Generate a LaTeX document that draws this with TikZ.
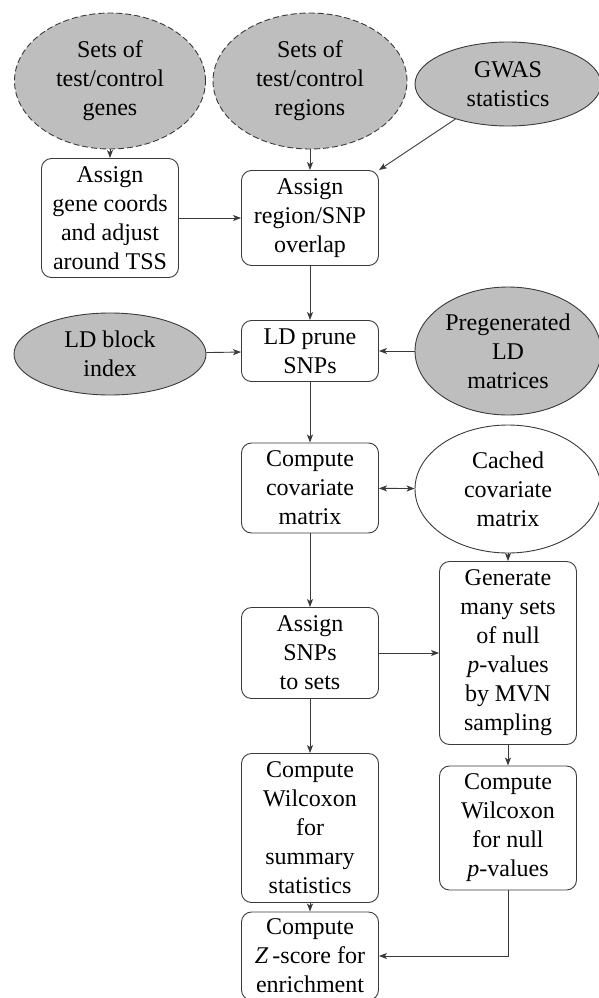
\documentclass[tikz,border=0pt]{standalone}
\usepackage{fontspec}
\setmainfont{Liberation Serif}
\usetikzlibrary{shapes.geometric,arrows.meta}
\definecolor{linec}{HTML}{3A3A3A}
\definecolor{fillc}{HTML}{BEBEBE}
\begin{document}
\begin{tikzpicture}[x=1pt,y=-1pt,
  txt/.style={font=\fontsize{24}{29}\selectfont, align=center, text=black},
  procbox/.style={txt, draw=linec, line width=0.9pt, rounded corners=10pt, minimum width=137pt, inner sep=0pt},
  blob/.style={txt, ellipse, draw=linec, line width=0.9pt, inner sep=0pt},
  grayblob/.style={blob, fill=fillc},
  dashblob/.style={grayblob, dash pattern=on 6pt off 3pt},
  arr/.style={draw=linec, line width=0.9pt, -{Stealth[length=8pt,width=6pt,inset=2pt]}},
  darr/.style={draw=linec, line width=0.9pt, {Stealth[length=8pt,width=6pt,inset=2pt]}-{Stealth[length=8pt,width=6pt,inset=2pt]}}
]
\useasboundingbox (0,0) rectangle (599,998);

% top ellipses
\node[dashblob, minimum width=191pt, minimum height=136pt] (genes) at (110,81) {Sets of\\test/control\\genes};
\node[dashblob, minimum width=194pt, minimum height=136pt] (regions) at (310,81) {Sets of\\test/control\\regions};
\node[grayblob, minimum width=186pt, minimum height=84pt] (gwas) at (508,84) {GWAS\\statistics};

% boxes row 1
\node[procbox, minimum height=119pt] (agc) at (110,218) {Assign\\gene coords\\and adjust\\around TSS};
\node[procbox, minimum height=95pt] (ars) at (310,218) {Assign\\region/SNP\\overlap};

% LD row
\node[grayblob, minimum width=192pt, minimum height=82pt] (ldb) at (110,354) {LD block\\index};
\node[procbox, minimum height=61pt] (ldp) at (310,351) {LD prune\\SNPs};
\node[grayblob, minimum width=186pt, minimum height=128pt] (pld) at (508,351) {Pregenerated\\LD\\matrices};

% covariate row
\node[procbox, minimum height=90pt] (ccm) at (310,488) {Compute\\covariate\\matrix};
\node[blob, minimum width=186pt, minimum height=128pt] (cached) at (508,489) {Cached\\covariate\\matrix};

% assign SNPs row
\node[procbox, minimum height=91pt] (asn) at (310,653) {Assign\\SNPs\\to sets};
\node[procbox, minimum height=183pt] (gen) at (508,653) {Generate\\many sets\\of null\\\textit{p}-values\\by MVN\\sampling};

% Wilcoxon row
\node[procbox, minimum height=149pt] (sum) at (310,828) {Compute\\Wilcoxon\\for\\summary\\statistics};
\node[procbox, minimum height=124pt] (wnull) at (508,828) {Compute\\Wilcoxon\\for null\\\textit{p}-values};

% Z-score
\node[procbox, minimum height=88pt] (z) at (310,956) {Compute\\\textit{Z}\,-score for\\enrichment};

% connectors
\draw[arr] (genes) -- (agc);
\draw[arr] (regions) -- (ars);
\draw[arr] (gwas) -- (ars.north east);
\draw[arr] (agc) -- (ars);
\draw[arr] (ars) -- (ldp);
\draw[arr] (ldb) -- (ldp);
\draw[arr] (pld) -- (ldp);
\draw[arr] (ldp) -- (ccm);
\draw[darr] (ccm) -- (cached);
\draw[arr] (ccm) -- (asn);
\draw[arr] (cached) -- (gen);
\draw[arr] (asn) -- (gen);
\draw[arr] (asn) -- (sum);
\draw[arr] (gen) -- (wnull);
\draw[arr] (sum) -- (z);
\draw[arr] (wnull.south) |- (z.east);
\end{tikzpicture}
\end{document}
